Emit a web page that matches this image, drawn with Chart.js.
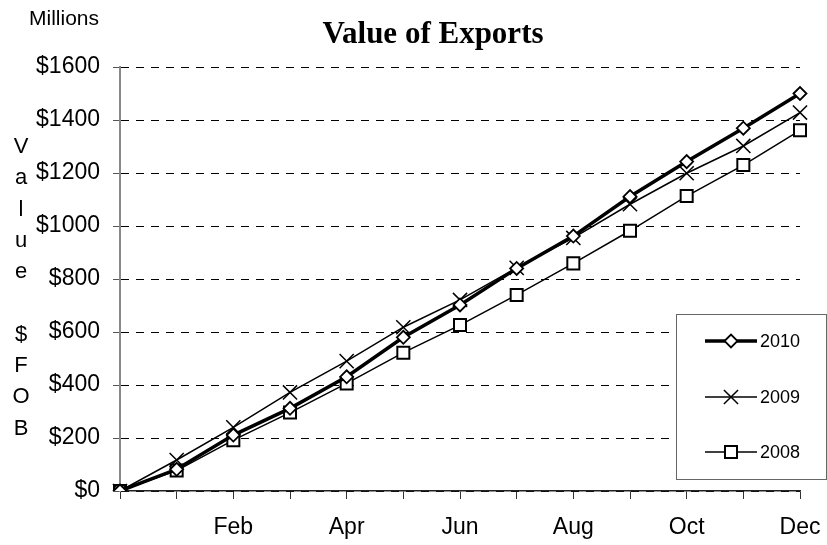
<!DOCTYPE html>
<html>
<head>
<meta charset="utf-8">
<script src="https://cdn.jsdelivr.net/npm/chart.js@4.4.1/dist/chart.umd.min.js"></script>
<style>
  html, body { margin: 0; padding: 0; background: #fff; }
  #wrap { width: 827px; height: 545px; }
</style>
</head>
<body>
<div id="wrap"><canvas id="chart" width="827" height="545"></canvas></div>
<script>
// Chart data
const months = ['', 'Jan', 'Feb', 'Mar', 'Apr', 'May', 'Jun', 'Jul', 'Aug', 'Sep', 'Oct', 'Nov', 'Dec'];
const exports2010 = [0, 82, 211, 312, 431, 580, 702, 840, 962, 1111, 1243, 1369, 1500];
const exports2009 = [0, 117, 240, 372, 490, 618, 721, 842, 955, 1082, 1199, 1302, 1428];
const exports2008 = [0, 77, 192, 296, 406, 522, 626, 740, 859, 982, 1113, 1230, 1361];
const yTicks = [0, 200, 400, 600, 800, 1000, 1200, 1400, 1600];

const chartTitle = 'Value of Exports';
const unitLabel = 'Millions';
const yTitleLetters = ['V', 'a', 'l', 'u', 'e', '', '$', 'F', 'O', 'B'];

const sans = "'Liberation Sans', Arial, sans-serif";
const serif = "'Liberation Serif', 'Times New Roman', serif";

// Title, "Millions" and the stacked axis title
const textPlugin = {
    id: 'textPlugin',
    afterDraw(chart) {
        const ctx = chart.ctx;
        ctx.save();
        ctx.fillStyle = '#000';
        ctx.textBaseline = 'middle';

        ctx.font = 'bold 31px ' + serif;
        ctx.textAlign = 'center';
        ctx.fillText(chartTitle, 433, 35);

        ctx.font = '21px ' + sans;
        ctx.textAlign = 'left';
        ctx.fillText(unitLabel, 29, 19);

        ctx.font = '22px ' + sans;
        ctx.textAlign = 'center';
        yTitleLetters.forEach((ch, i) => {
            ctx.fillText(ch, 21, 147 + i * 31.3);
        });
        ctx.restore();
    }
};

// Boxed legend in the lower right
const boxLegend = {
    id: 'boxLegend',
    afterDraw(chart) {
        const ctx = chart.ctx;
        ctx.save();
        ctx.fillStyle = '#fff';
        ctx.fillRect(676.5, 314.5, 150, 165);
        ctx.strokeStyle = '#666';
        ctx.lineWidth = 1;
        ctx.strokeRect(676.5, 314.5, 150, 165);

        const rows = [341, 397, 452];
        chart.data.datasets.forEach((ds, i) => {
            const y = rows[i];
            ctx.strokeStyle = '#000';
            ctx.lineWidth = ds.borderWidth;
            ctx.beginPath();
            ctx.moveTo(705, y);
            ctx.lineTo(757, y);
            ctx.stroke();

            ctx.fillStyle = ds.pointBackgroundColor;
            ctx.strokeStyle = '#000';
            ctx.lineWidth = ds.pointBorderWidth;
            Chart.helpers.drawPoint(ctx, {
                pointStyle: ds.pointStyle,
                radius: ds.pointRadius,
                rotation: 0,
                borderWidth: ds.pointBorderWidth
            }, 731, y);

            ctx.fillStyle = '#000';
            ctx.font = '18px ' + sans;
            ctx.textAlign = 'left';
            ctx.textBaseline = 'middle';
            ctx.fillText(ds.label, 760, y + 1);
        });
        ctx.restore();
    }
};

const ctx = document.getElementById('chart').getContext('2d');
new Chart(ctx, {
    type: 'line',
    data: {
        labels: months,
        datasets: [
            {
                label: '2010',
                data: exports2010,
                borderColor: '#000',
                borderWidth: 3.5,
                pointStyle: 'rectRot',
                pointRadius: 6.5,
                pointBorderWidth: 1.8,
                pointBackgroundColor: '#fff',
                pointBorderColor: '#000',
                tension: 0
            },
            {
                label: '2009',
                data: exports2009,
                borderColor: '#000',
                borderWidth: 1.5,
                pointStyle: 'crossRot',
                pointRadius: 10,
                pointBorderWidth: 1.5,
                pointBackgroundColor: '#fff',
                pointBorderColor: '#000',
                tension: 0
            },
            {
                label: '2008',
                data: exports2008,
                borderColor: '#000',
                borderWidth: 1.5,
                pointStyle: 'rect',
                pointRadius: 8.5,
                pointBorderWidth: 2,
                pointBackgroundColor: '#fff',
                pointBorderColor: '#000',
                tension: 0
            }
        ]
    },
    options: {
        responsive: false,
        animation: false,
        devicePixelRatio: 1,
        layout: { padding: { left: 0, right: 27, top: 67, bottom: 0 } },
        plugins: {
            legend: { display: false },
            title: { display: false },
            tooltip: { enabled: false }
        },
        scales: {
            x: {
                offset: false,
                afterFit(scale) {
                    scale.height = 54;
                    // don't let the "Dec" label push the plot in
                    scale.paddingLeft = 0;
                    scale.paddingRight = 0;
                },
                grid: {
                    display: true,
                    drawOnChartArea: false,
                    drawTicks: true,
                    tickLength: 8,
                    tickColor: '#333',
                    tickWidth: 1
                },
                border: { display: true, color: '#222', width: 1.5 },
                ticks: {
                    autoSkip: false,
                    maxRotation: 0,
                    minRotation: 0,
                    padding: 15,
                    color: '#000',
                    font: { family: sans, size: 23 },
                    callback: function(value, index) {
                        return (index > 0 && index % 2 === 0) ? months[index] : '';
                    }
                }
            },
            y: {
                min: 0,
                max: 1600,
                afterFit(scale) { scale.width = 120; },
                afterBuildTicks(scale) {
                    scale.ticks = yTicks.map(v => ({ value: v }));
                },
                grid: {
                    color: '#000',
                    lineWidth: 1,
                    drawTicks: true,
                    tickLength: 7,
                    tickColor: '#555',
                    tickBorderDash: []
                },
                border: { display: true, color: '#888', width: 2, dash: [8, 7] },
                ticks: {
                    padding: 13,
                    color: '#000',
                    font: { family: sans, size: 23 },
                    callback: function(value) { return '$' + value; }
                }
            }
        }
    },
    plugins: [textPlugin, boxLegend]
});
</script>
</body>
</html>
